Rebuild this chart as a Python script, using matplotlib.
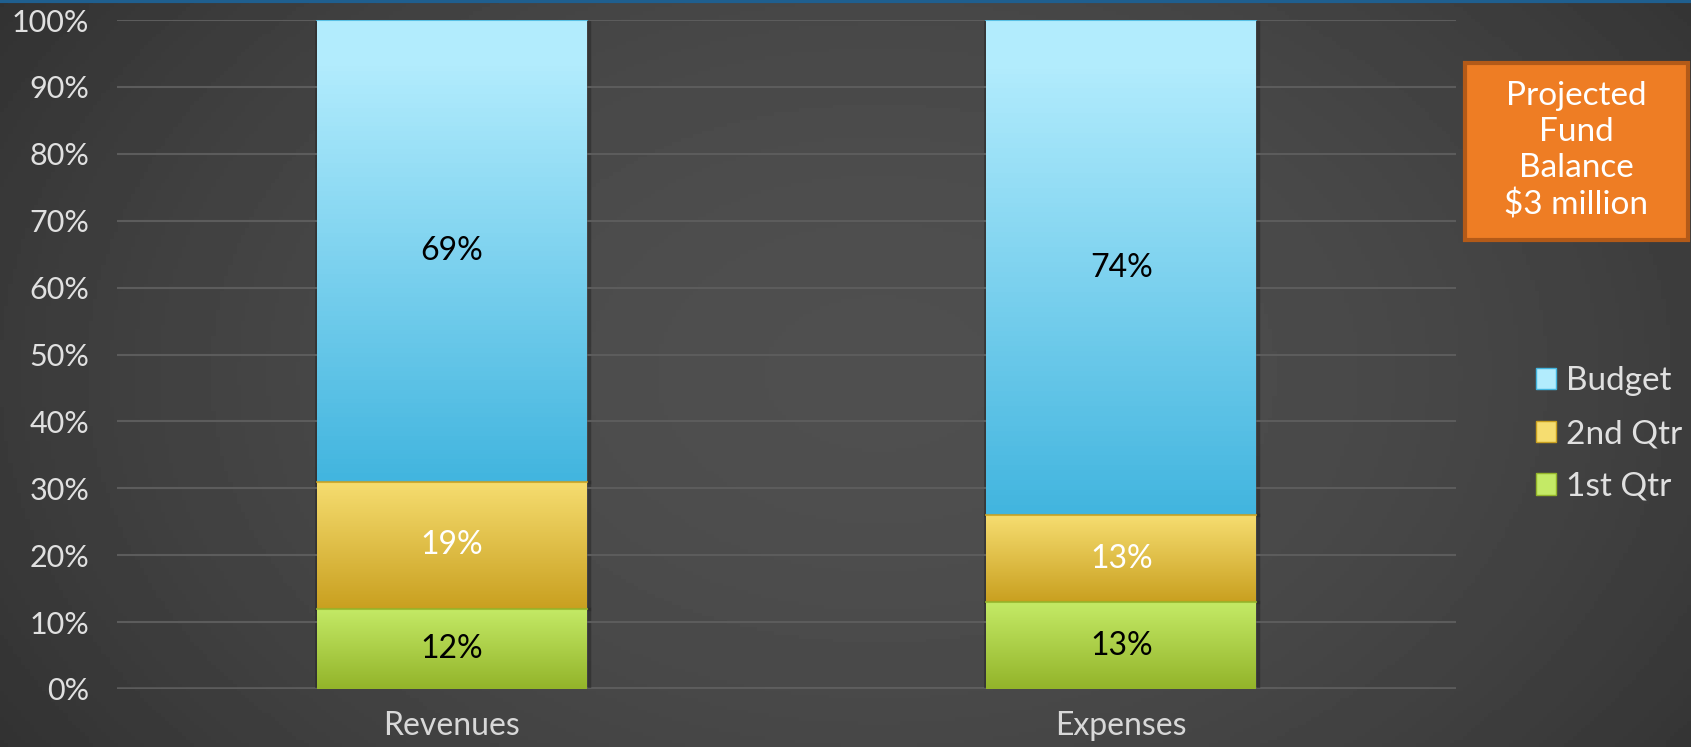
import numpy as np
import matplotlib
matplotlib.use("Agg")
import matplotlib.pyplot as plt
from matplotlib.colors import LinearSegmentedColormap
from matplotlib.patches import Patch

categories = ["Revenues", "Expenses"]
series_names = ["1st Qtr", "2nd Qtr", "Budget"]
q1 = [12, 13]
q2 = [19, 13]
budget = [69, 74]
yticks = [0, 10, 20, 30, 40, 50, 60, 70, 80, 90, 100]
box_text = "Projected\nFund\nBalance\n$3 million"

FONT = ["Lato", "DejaVu Sans"]
plt.rcParams['font.family'] = FONT

W, H = 1691, 747
fig = plt.figure(figsize=(W / 100, H / 100), dpi=100)

# background gradient
bg = fig.add_axes([0, 0, 1, 1])
yy, xx = np.mgrid[0:1:200j, 0:1:400j]
r2 = ((xx - 0.52) / 0.65) ** 2 + ((yy - 0.5) / 1.0) ** 2
val = 0.31 - 0.13 * np.clip(r2, 0, 1.2)
bg.imshow(val, cmap="gray", vmin=0, vmax=1, extent=[0, 1, 0, 1], aspect="auto", origin="lower")
bg.axhline(0.998, color="#1f5f8f", lw=3)
bg.set_xlim(0, 1); bg.set_ylim(0, 1)
bg.axis("off")

ax = fig.add_axes([117 / W, 1 - 689 / H, (1456 - 117) / W, (689 - 20) / H])
ax.patch.set_alpha(0)
x = np.arange(len(categories))
width = 0.403

grads = {
    "1st Qtr": ("#C4EA66", "#93B42A"),
    "2nd Qtr": ("#F6DD70", "#C9A020"),
    "Budget": ("#B2ECFD", "#42B5DF"),
}
label_colors = {"1st Qtr": "black", "2nd Qtr": "white", "Budget": "black"}

bottom = np.zeros(len(categories))
for name, vals in zip(series_names, [q1, q2, budget]):
    vals = np.array(vals, dtype=float)
    top_c, bot_c = grads[name]
    bars = ax.bar(x, vals, width, bottom=bottom, color=bot_c, edgecolor="none", zorder=2, label=name)
    cmap = LinearSegmentedColormap.from_list(name, [bot_c, top_c])
    for p in bars.patches:
        bx, by = p.get_x(), p.get_y()
        bw, bh = p.get_width(), p.get_height()
        grad = np.linspace(0, 1, 100).reshape(-1, 1)
        if name == "Budget":
            grad = np.clip(grad * 1.1, 0, 1)
        im = ax.imshow(grad, cmap=cmap, vmin=0, vmax=1, extent=[bx, bx + bw, by, by + bh], aspect="auto",
                       origin="lower", zorder=3)
        im.set_clip_path(p)
        ax.plot([bx, bx + bw], [by + bh, by + bh], color=bot_c, lw=1.5, zorder=4, alpha=0.8)
        ax.plot([bx - 0.002, bx - 0.002], [by, by + bh], color="#2a2a2a", lw=2, zorder=1.5, alpha=0.6)
        ax.plot([bx + bw + 0.003, bx + bw + 0.003], [by, by + bh], color="#2a2a2a", lw=2.5, zorder=1.5, alpha=0.6)
    for xi, b, v in zip(x, bottom, vals):
        ax.text(xi, b + v / 2, f"{v:.0f}%", ha="center", va="center", fontsize=23,
                color=label_colors[name], zorder=5)
    bottom = bottom + vals

ax.set_xlim(-0.5, 1.5)
ax.set_ylim(0, 100)
ax.set_yticks(yticks)
ax.set_yticklabels([f"{t}%" for t in yticks], fontsize=22, color="#e0e0e0")
ax.set_xticks(x)
ax.set_xticklabels(categories, fontsize=23, color="#d8d8d8")
ax.tick_params(length=0)
ax.tick_params(axis="y", pad=20)
ax.tick_params(axis="x", pad=16)
for s in ax.spines.values():
    s.set_visible(False)
ax.grid(axis="y", color="#5c5c5c", lw=1.5, zorder=0)
ax.axhline(0, color="#a8a8a8", lw=2.5, zorder=1)

# legend
leg_handles = [Patch(facecolor=grads[n][0], edgecolor=grads[n][1]) for n in ["Budget", "2nd Qtr", "1st Qtr"]]
fig.legend(leg_handles, ["Budget", "2nd Qtr", "1st Qtr"], loc="center left",
           bbox_to_anchor=(1506 / W, 1 - 434 / H), frameon=False, fontsize=24,
           labelcolor="#e0e0e0", handlelength=0.6, handleheight=0.6, handletextpad=0.3,
           labelspacing=0.68)

# orange box
fig.patches.append(plt.Rectangle((1465 / W, 1 - 240 / H), (1688 - 1465) / W, (240 - 63) / H,
                                 transform=fig.transFigure, facecolor="#EE7D24", edgecolor="#B35A18",
                                 lw=3, zorder=5))
fig.text((1465 + 1688) / 2 / W, 1 - 151 / H, box_text, ha="center", va="center", fontsize=24,
         color="white", linespacing=1.25, zorder=6)

fig.savefig("out.png", dpi=100)
